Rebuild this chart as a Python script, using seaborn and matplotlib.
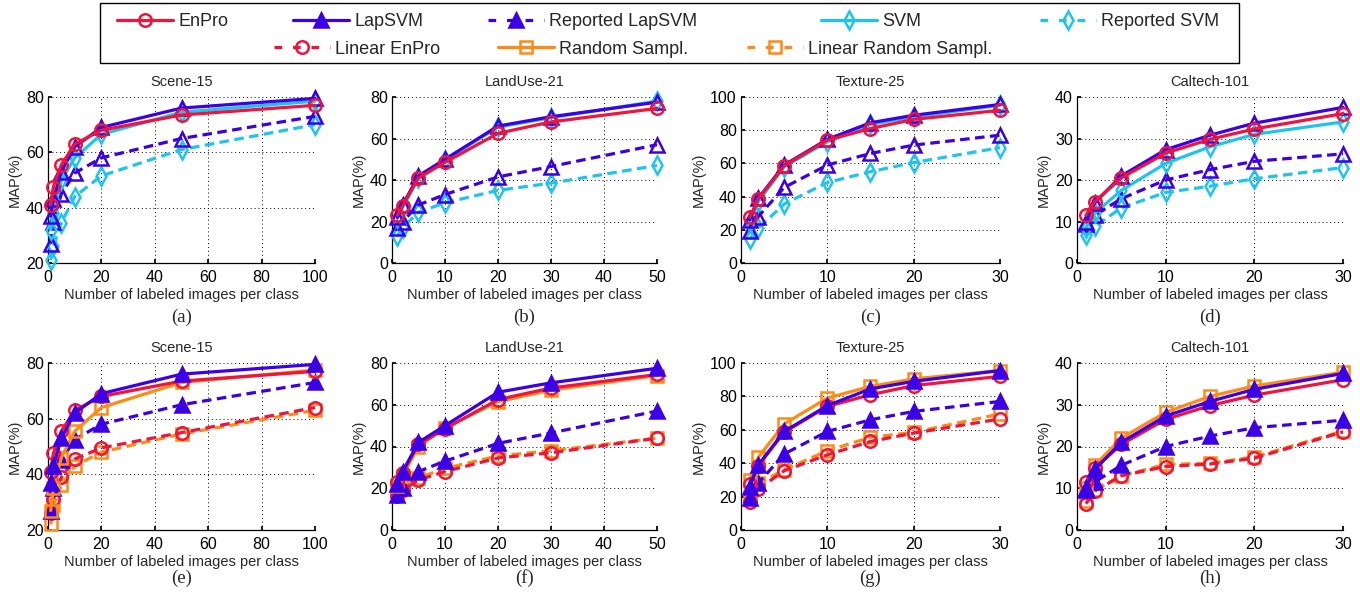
import matplotlib
matplotlib.use("Agg")
import matplotlib.pyplot as plt
from matplotlib.lines import Line2D
from matplotlib.patches import Rectangle
import seaborn as sns
import pandas as pd

sns.set_theme(style="white")
plt.rcParams['font.family'] = ['Liberation Sans', 'DejaVu Sans']

# ---------------- data ----------------
datasets = ["Scene-15", "LandUse-21", "Texture-25", "Caltech-101"]
x_scene = [1, 2, 5, 10, 20, 50, 100]
x_landuse = [1, 2, 5, 10, 20, 30, 50]
x_texture = [1, 2, 5, 10, 15, 20, 30]
x_caltech = [1, 2, 5, 10, 15, 20, 30]

enpro_scene = [41, 47.5, 55.5, 63, 68, 73.5, 77]
lapsvm_scene = [37, 43, 53, 62, 69, 76, 79.5]
rep_lapsvm_scene = [27, 35, 45, 52.5, 58, 65, 73]
svm_scene = [32, 38, 50, 58, 66.5, 74.5, 78.5]
rep_svm_scene = [21, 26, 34.5, 44, 51.5, 61, 70]
rand_scene = [27, 35, 46, 55.5, 64, 73, 77.5]
lin_enpro_scene = [26, 31, 39, 45.5, 49.5, 55, 64]
lin_rand_scene = [22, 29, 36, 43, 48, 54.5, 63]

enpro_landuse = [23, 27.5, 41, 48.5, 62.5, 68, 74.5]
lapsvm_landuse = [22, 28, 42, 50, 66, 70.5, 77.5]
rep_lapsvm_landuse = [17, 20, 28, 33, 41.5, 46.5, 57]
svm_landuse = [21.5, 27, 41, 49.5, 65.5, 70, 78]
rep_svm_landuse = [13, 17, 24.5, 29, 35, 38.5, 47]
rand_landuse = [21, 26, 40, 49, 61.5, 67, 74]
lin_enpro_landuse = [16.5, 19, 24, 28, 34.5, 37, 44]
lin_rand_landuse = [20, 22, 25, 29.5, 35.5, 38, 44]

enpro_texture = [27.5, 38.5, 58.5, 74, 81, 86.5, 92]
lapsvm_texture = [26, 39, 59, 74.5, 84.5, 89, 95.5]
rep_lapsvm_texture = [19, 28, 45.5, 59, 66, 71, 77]
svm_texture = [25, 37, 58, 73, 83.5, 88, 95]
rep_svm_texture = [14.5, 21, 35.5, 48.5, 55, 60.5, 69.5]
rand_texture = [30, 43.5, 63.5, 79, 86, 90.5, 95.5]
lin_enpro_texture = [16.5, 24.5, 35.5, 45, 53, 58, 66.5]
lin_rand_texture = [20, 28, 36, 47.5, 55.5, 58.5, 69.5]

enpro_caltech = [11.5, 14.8, 20.5, 26.5, 29.8, 32.3, 36]
lapsvm_caltech = [10, 14.5, 21, 27.3, 30.8, 33.7, 37.5]
rep_lapsvm_caltech = [9.5, 11.5, 15.5, 20, 22.5, 24.5, 26.3]
svm_caltech = [8.5, 12, 17.5, 24, 28, 31, 34]
rep_svm_caltech = [6.8, 8.8, 13.3, 17, 18.5, 20.3, 23]
rand_caltech = [10, 15.5, 22, 28.2, 32, 34.5, 37.8]
lin_enpro_caltech = [6.3, 9.3, 13, 15.2, 15.8, 17.2, 23.5]
lin_rand_caltech = [7, 9.5, 13, 15.7, 16, 17.5, 23.7]

xs = [x_scene, x_landuse, x_texture, x_caltech]
series = {
    "EnPro": [enpro_scene, enpro_landuse, enpro_texture, enpro_caltech],
    "LapSVM": [lapsvm_scene, lapsvm_landuse, lapsvm_texture, lapsvm_caltech],
    "Reported LapSVM": [rep_lapsvm_scene, rep_lapsvm_landuse, rep_lapsvm_texture, rep_lapsvm_caltech],
    "SVM": [svm_scene, svm_landuse, svm_texture, svm_caltech],
    "Reported SVM": [rep_svm_scene, rep_svm_landuse, rep_svm_texture, rep_svm_caltech],
    "Random Sampl.": [rand_scene, rand_landuse, rand_texture, rand_caltech],
    "Linear EnPro": [lin_enpro_scene, lin_enpro_landuse, lin_enpro_texture, lin_enpro_caltech],
    "Linear Random Sampl.": [lin_rand_scene, lin_rand_landuse, lin_rand_texture, lin_rand_caltech],
}
xlims = [(0, 100), (0, 50), (0, 30), (0, 30)]
xticks = [[0, 20, 40, 60, 80, 100], [0, 10, 20, 30, 40, 50], [0, 10, 20, 30], [0, 10, 20, 30]]
ylims = [(20, 80), (0, 80), (0, 100), (0, 40)]
yticks = [[20, 40, 60, 80], [0, 20, 40, 60, 80], [0, 20, 40, 60, 80, 100], [0, 10, 20, 30, 40]]
panel_labels = ["(a)", "(b)", "(c)", "(d)", "(e)", "(f)", "(g)", "(h)"]

RED = "#F0133C"
BLUE = "#3C00E6"
CYAN = "#1EC3F0"
ORANGE = "#FF8A14"

styles = {
    "EnPro": dict(color=RED, marker="o", dashed=False, fill=False, ms=9),
    "LapSVM": dict(color=BLUE, marker="^", dashed=False, fill=True, ms=9.5),
    "Reported LapSVM": dict(color=BLUE, marker="^", dashed=True, fill=True, ms=9.5),
    "SVM": dict(color=CYAN, marker="d", dashed=False, fill=False, ms=9),
    "Reported SVM": dict(color=CYAN, marker="d", dashed=True, fill=False, ms=9),
    "Random Sampl.": dict(color=ORANGE, marker="s", dashed=False, fill=False, ms=8),
    "Linear EnPro": dict(color=RED, marker="o", dashed=True, fill=False, ms=9),
    "Linear Random Sampl.": dict(color=ORANGE, marker="s", dashed=True, fill=False, ms=8),
}
LW = 2.3
PLOT_DASH = (0, (3.0, 1.7))
LEG_DASH = (0, (2.4, 3.4))

top_series = ["Reported SVM", "Reported LapSVM", "SVM", "LapSVM", "EnPro"]
bottom_series = ["Linear Random Sampl.", "Linear EnPro", "Reported LapSVM",
                 "Random Sampl.", "EnPro", "LapSVM"]

W, H = 1360, 601
fig = plt.figure(figsize=(W / 100, H / 100), dpi=100)

col_px = [(48, 315), (392, 657), (741, 1000), (1077, 1343)]
row_px = [(97, 263), (363, 530)]
panel_label_y = [317, 578]


def add_ax(c, r):
    x0, x1 = col_px[c]
    y0, y1 = row_px[r]
    return fig.add_axes([x0 / W, 1 - y1 / H, (x1 - x0) / W, (y1 - y0) / H])


for r, names in enumerate([top_series, bottom_series]):
    for c in range(4):
        ax = add_ax(c, r)
        for name in names:
            st = styles[name]
            df = pd.DataFrame({"x": xs[c], "y": series[name][c]})
            fill = st["fill"] and r == 1
            sns.lineplot(data=df, x="x", y="y", ax=ax, color=st["color"],
                         linestyle=PLOT_DASH if st["dashed"] else "-",
                         linewidth=LW, marker=st["marker"], markersize=st["ms"],
                         markeredgewidth=1.8, markeredgecolor=st["color"],
                         markerfacecolor=st["color"] if fill else "none",
                         clip_on=False, zorder=3)
        ax.set_xlim(*xlims[c])
        ax.set_ylim(*ylims[c])
        ax.set_xticks(xticks[c])
        ax.set_yticks(yticks[c])
        ax.grid(True, color="black", linestyle=(0, (1, 3)), linewidth=0.7)
        ax.set_axisbelow(True)
        for s in ["top", "right"]:
            ax.spines[s].set_visible(False)
        for s in ["left", "bottom"]:
            ax.spines[s].set_color("black")
            ax.spines[s].set_linewidth(0.9)
        ax.tick_params(axis="x", labelsize=11.5, direction="in", length=3,
                       colors="black", bottom=True, pad=5)
        ax.tick_params(axis="y", labelsize=11.5, direction="in", length=3,
                       colors="black", left=True, pad=3)
        ax.set_title(datasets[c], fontsize=10.5, pad=8)
        ax.set_xlabel("Number of labeled images per class", fontsize=10.5, labelpad=2)
        ax.set_ylabel("MAP(%)", fontsize=10.5, labelpad=3)
        ax.set_facecolor("white")
        if ax.get_legend() is not None:
            ax.get_legend().remove()
        xc = (col_px[c][0] + col_px[c][1]) / 2
        fig.text(xc / W, 1 - panel_label_y[r] / H, panel_labels[r * 4 + c],
                 ha="center", va="center", fontsize=13.5, family="Liberation Serif")


def handle(name):
    st = styles[name]
    return Line2D([0], [0], color=st["color"],
                  linestyle=LEG_DASH if st["dashed"] else "-", linewidth=LW,
                  marker=st["marker"], markersize=st["ms"], markeredgewidth=1.8,
                  markerfacecolor=st["color"] if st["fill"] else "none")


# legend box
fig.patches.append(Rectangle((100 / W, 1 - 63 / H), (1239 - 100) / W, 60 / H,
                             transform=fig.transFigure, facecolor="white",
                             edgecolor="black", linewidth=1.0, zorder=0))

leg_entries = [
    ("EnPro", 117, 22), ("LapSVM", 293, 22), ("Reported LapSVM", 488, 22),
    ("SVM", 821, 22), ("Reported SVM", 1040, 22),
    ("Linear EnPro", 274, 49), ("Random Sampl.", 498, 49),
    ("Linear Random Sampl.", 747, 49),
]
for name, lx, ly in leg_entries:
    fig.legend([handle(name)], [name], loc="center left",
               bbox_to_anchor=(lx / W, 1 - ly / H), frameon=False,
               fontsize=13, handlelength=3.1, handletextpad=0.3,
               borderpad=0, borderaxespad=0)

fig.savefig("out.png", dpi=100, facecolor="white")
